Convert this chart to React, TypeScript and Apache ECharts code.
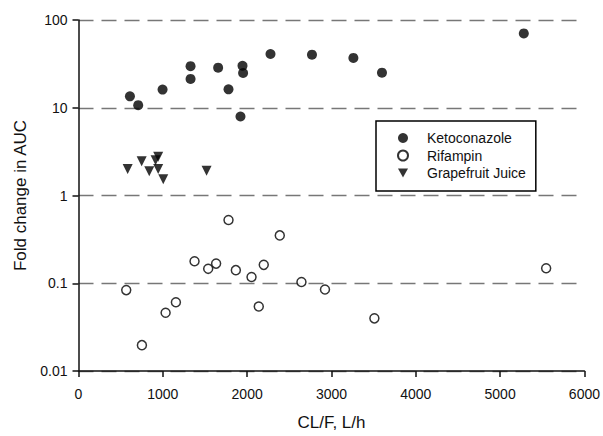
import React, { useEffect, useRef } from "react";
import * as echarts from "echarts";

const xTicks = [0, 1000, 2000, 3000, 4000, 5000, 6000];
const yTicks = [0.01, 0.1, 1, 10, 100];

const ketoX = [610, 708, 997, 1329, 1329, 1656, 1779, 1945, 1952, 1921, 2277, 2769, 3260, 3599, 5281];
const ketoY = [13.5, 10.7, 16.1, 29.8, 21.3, 28.6, 16.2, 30.1, 24.9, 7.95, 41, 40.3, 37, 25.1, 70.4];

const rifX = [566, 752, 1033, 1155, 1376, 1538, 1632, 1779, 1866, 2052, 2138, 2197, 2387, 2644, 2923, 3509, 5546];
const rifY = [0.0835, 0.0197, 0.0461, 0.0608, 0.178, 0.146, 0.1675, 0.525, 0.141, 0.1177, 0.0543, 0.162, 0.351, 0.1035, 0.085, 0.0398, 0.148];

const gjX = [583, 749, 839, 914, 945, 945, 1005, 1519];
const gjY = [2.0, 2.45, 1.89, 2.53, 2.76, 2.0, 1.53, 1.92];

const FONT = "'Liberation Sans', Arial, sans-serif";

const zip = (xs: number[], ys: number[]) => xs.map((x, i) => [x, ys[i]]);

export default function App() {
  const ref = useRef<HTMLDivElement>(null);
  useEffect(() => {
    if (!ref.current) return;
    const chart = echarts.init(ref.current, undefined, { renderer: "svg" });
    chart.setOption({
      animation: false,
      backgroundColor: "#fff",
      textStyle: { fontFamily: FONT },
      grid: { left: 78.5, right: 18, top: 20, bottom: 59, containLabel: false },
      legend: {
        left: 376,
        top: 121,
        orient: "vertical",
        borderColor: "#000",
        borderWidth: 1.5,
        backgroundColor: "#fff",
        padding: [10, 10, 11, 21],
        itemWidth: 10,
        itemHeight: 10,
        itemGap: 3.5,
        textStyle: {
          fontSize: 14,
          color: "#111",
          fontFamily: FONT,
          lineHeight: 14,
          padding: [0, 0, 0, 14],
        },
        data: [
          { name: "Ketoconazole", icon: "circle" },
          { name: "Rifampin", icon: "circle" },
          { name: "Grapefruit Juice", icon: "path://M0,0L10,0L5,9Z" },
        ],
      },
      xAxis: {
        type: "value",
        min: xTicks[0],
        max: xTicks[xTicks.length - 1],
        interval: 1000,
        name: "CL/F, L/h",
        nameLocation: "middle",
        nameGap: 43,
        nameTextStyle: { fontSize: 17, color: "#111", fontFamily: FONT },
        axisLine: { show: true, lineStyle: { color: "#111", width: 1.5 } },
        axisTick: { show: true, length: 6, lineStyle: { color: "#111", width: 1.5 } },
        axisLabel: {
          fontSize: 14,
          color: "#111",
          margin: 16,
          fontFamily: FONT,
          formatter: (v: number) => String(v),
        },
        splitLine: { show: false },
      },
      yAxis: {
        type: "log",
        logBase: 10,
        min: yTicks[0],
        max: yTicks[yTicks.length - 1],
        name: "Fold change in AUC",
        nameLocation: "middle",
        nameGap: 50,
        nameTextStyle: { fontSize: 17, color: "#111", fontFamily: FONT },
        axisLine: { show: true, lineStyle: { color: "#111", width: 1.5 } },
        axisTick: { show: true, length: 6, lineStyle: { color: "#111", width: 1.5 } },
        axisLabel: {
          fontSize: 14,
          color: "#111",
          margin: 11,
          fontFamily: FONT,
          formatter: (v: number) => String(parseFloat(v.toPrecision(3))),
        },
        minorTick: { show: false },
        splitLine: { show: true, lineStyle: { color: "#777", width: 1.3, type: [15, 8] } },
      },
      series: [
        {
          name: "Ketoconazole",
          type: "scatter",
          symbol: "circle",
          symbolSize: 10,
          itemStyle: { color: "#000" },
          data: zip(ketoX, ketoY),
          z: 3,
        },
        {
          name: "Rifampin",
          type: "scatter",
          symbol: "circle",
          symbolSize: 9,
          itemStyle: { color: "#fff", borderColor: "#000", borderWidth: 1.5 },
          data: zip(rifX, rifY),
          z: 3,
        },
        {
          name: "Grapefruit Juice",
          type: "scatter",
          symbol: "triangle",
          symbolRotate: 180,
          symbolSize: 10,
          itemStyle: { color: "#000" },
          data: zip(gjX, gjY),
          z: 3,
        },
      ],
    });
    return () => chart.dispose();
  }, []);
  return (
    <div
      ref={ref}
      style={{ position: "fixed", left: 0, top: 0, width: 603, height: 436, background: "#fff" }}
    />
  );
}
